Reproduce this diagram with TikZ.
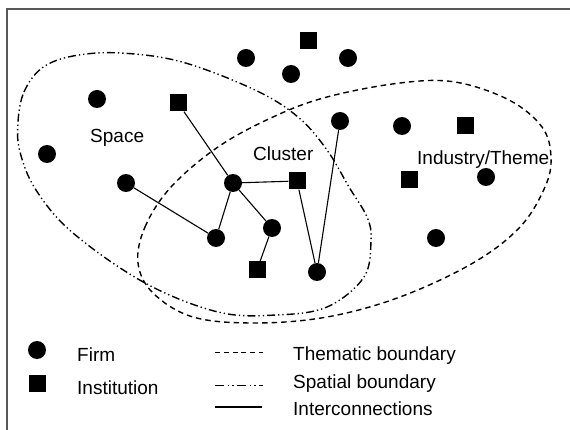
\documentclass[tikz,border=0pt]{standalone}
\usepackage{fontspec}
\setmainfont{Liberation Sans}
\begin{document}
\begin{tikzpicture}[x=1pt,y=-1pt,
  firm/.style={circle,fill=black,inner sep=0pt,minimum size=18pt},
  inst/.style={rectangle,fill=black,inner sep=0pt,minimum size=17pt},
  lbl/.style={anchor=base west,inner sep=0pt,font=\fontsize{19}{22}\selectfont},
  link/.style={line width=1.1pt},
  thematic/.style={line width=1.4pt,dash pattern=on 5.5pt off 4pt},
  spatial/.style={line width=1.4pt,dash pattern=on 8pt off 3pt on 1.3pt off 3pt on 1.3pt off 3pt},
  frameline/.style={draw=black!65,line width=2pt}]
\useasboundingbox (0,0) rectangle (570,430);
\draw[frameline] (6.5,430) -- (6.5,9) -- (570,9);
% boundaries
\draw[spatial] plot[smooth cycle,tension=0.6] coordinates {
 (18,122) (24,92) (42,68) (73,56) (120,53) (182,62) (255,90) (298,117) (327,150)
 (349,187) (367,217) (371,240) (364,277) (327,307) (276,315) (218,312)
 (145,283) (73,233) (36,190) (20,152)};
\draw[thematic] plot[smooth cycle,tension=0.6] coordinates {
 (138,263) (145,227) (171,187) (218,147) (273,117) (327,97) (400,83)
 (455,82) (509,100) (542,127) (551,157) (545,187) (520,227) (473,263)
 (400,297) (327,317) (255,323) (193,317) (153,293)};
% firms
\node[firm] (f1) at (246,58) {};
\node[firm] (f2) at (291,74) {};
\node[firm] (f3) at (348,58) {};
\node[firm] (f4) at (97,99) {};
\node[firm] (f5) at (47,154) {};
\node[firm] (f6) at (126,183) {};
\node[firm] (f7) at (233,183) {};
\node[firm] (f8) at (216,238) {};
\node[firm] (f9) at (272,228) {};
\node[firm] (f10) at (317,272) {};
\node[firm] (f11) at (340,121) {};
\node[firm] (f12) at (402,126) {};
\node[firm] (f13) at (486,177) {};
\node[firm] (f14) at (436,238) {};
% institutions
\node[inst] (i1) at (308,41) {};
\node[inst] (i2) at (178,103) {};
\node[inst] (i3) at (297,181) {};
\node[inst] (i4) at (257,270) {};
\node[inst] (i5) at (465,126) {};
\node[inst] (i6) at (409,180) {};
% links
\draw[link] (i2) -- (f7);
\draw[link] (f7) -- (i3);
\draw[link] (f7) -- (f8);
\draw[link] (f7) -- (f9);
\draw[link] (f6) -- (f8);
\draw[link] (f9) -- (i4);
\draw[link] (i3) -- (f10);
\draw[link] (f10) -- (f11);
% labels
\node[lbl] (tspace) at (90,143) {Space};
\node[lbl] (tcluster) at (253,161) {Cluster};
\node[lbl] (tind) at (417,165) {Industry/Theme};
% legend
\node[firm] (lf) at (37,350) {};
\node[inst] (li) at (37,383) {};
\node[lbl] (tfirm) at (77,361) {Firm};
\node[lbl] (tinst) at (77,394) {Institution};
\coordinate (a1) at (215,352); \coordinate (a2) at (263,352);
\coordinate (b1) at (215,385); \coordinate (b2) at (263,385);
\coordinate (c1) at (215,407); \coordinate (c2) at (262,407);
\draw[line width=1pt,dash pattern=on 5pt off 3.8pt] (a1) -- (a2);
\draw[line width=1pt,dash pattern=on 9pt off 3.5pt on 1.3pt off 3.5pt on 1.3pt off 3.5pt] (b1) -- (b2);
\draw[link] (c1) -- (c2);
\node[lbl] (tthem) at (293,360) {Thematic boundary};
\node[lbl] (tspat) at (293,388) {Spatial boundary};
\node[lbl] (tinter) at (293,415) {Interconnections};
\end{tikzpicture}
\end{document}
